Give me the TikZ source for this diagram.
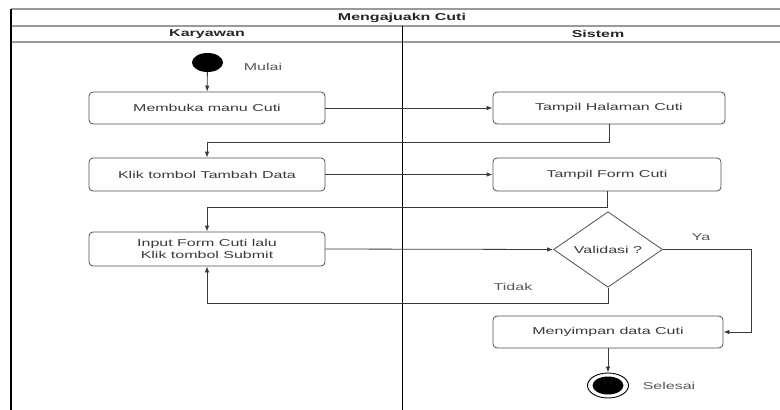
\documentclass[tikz,border=0pt]{standalone}
\usepackage{fontspec}
\setmainfont[FakeStretch=1.6]{Liberation Sans}
\usetikzlibrary{shapes.geometric,arrows.meta}
\definecolor{edge}{HTML}{505050}
\definecolor{ink}{HTML}{3A3A3A}
\definecolor{rule}{HTML}{9A9A9A}
\tikzset{
  act/.style={draw=edge, line width=0.8pt, rounded corners=4pt, fill=white,
    minimum width=236pt, minimum height=32pt, inner sep=0pt,
    font=\fontsize{10}{12}\selectfont, text=ink, align=center},
  decide/.style={diamond, draw=edge, line width=0.8pt, fill=white,
    minimum width=109pt, minimum height=65pt, inner sep=0pt,
    font=\fontsize{10}{12}\selectfont, text=ink},
  startdot/.style={ellipse, fill=black, minimum width=31pt, minimum height=19pt, inner sep=0pt},
  enddot/.style={ellipse, draw=black, line width=0.9pt, minimum width=41pt, minimum height=25pt, inner sep=0pt},
  enddotin/.style={ellipse, fill=black, minimum width=31pt, minimum height=18pt, inner sep=0pt},
  lbl/.style={font=\fontsize{10}{12}\selectfont, text=ink!85, inner sep=0pt},
  head/.style={font=\bfseries\fontsize{10}{12}\selectfont, text=black!85, inner sep=0pt},
  flow/.style={draw=ink, line width=0.8pt, -{Latex[length=6pt,width=4.5pt]}},
  hline/.style={draw=rule, line width=1.4pt},
}
\begin{document}
\begin{tikzpicture}[x=1pt,y=-1pt]
\useasboundingbox (0,0) rectangle (780,410);
\begin{scope}
\clip (0,0) rectangle (780,410);
% swimlane frame
\draw[hline] (11,9) -- (800,9);
\draw[hline] (11,26) -- (800,26);
\draw[hline] (11,42) -- (800,42);
\draw[black, line width=1.4pt] (11,9) -- (11,412);
\draw[black, line width=1pt] (402,26) -- (402,412);
\end{scope}
\node[head] (title) at (402,17.5) {Mengajuakn Cuti};
\node[head] (laneA) at (207,34) {Karyawan};
\node[head] (laneB) at (598,34) {Sistem};

% activities
\node[startdot] (start) at (207.5,62.5) {};
\node[lbl] (mulai) at (263,67) {Mulai};
\node[act] (k1) at (207,108) {Membuka manu Cuti};
\node[act, minimum height=33pt] (k2) at (207,174.5) {Klik tombol Tambah Data};
\node[act, minimum height=34pt] (k3) at (207,249) {Input Form Cuti lalu\\Klik tombol Submit};
\node[act, minimum width=232pt] (th) at (609,108) {Tampil Halaman Cuti};
\node[act, minimum width=228pt, minimum height=33pt] (tf) at (607,174.5) {Tampil Form Cuti};
\node[decide] (val) at (608,249.5) {Validasi ?};
\node[act, minimum width=230pt] (ms) at (608,332) {Menyimpan data Cuti};
\node[enddot] (fin) at (608,385.5) {};
\node[enddotin] (finin) at (608,385.5) {};
\node[lbl] (selesai) at (669,386) {Selesai};
\node[lbl] (ya) at (701,237) {Ya};
\node[lbl] (tidak) at (513,287) {Tidak};

% control flow
\draw[flow] (start) -- (k1);
\draw[flow] (k1) -- (th);
\draw[flow] (th.south) -- ++(0,18) -| (k2.north);
\draw[flow] (k2) -- (tf);
\draw[flow] (tf.south) -- ++(0,16) -| (k3.north);
\draw[flow] (k3.east) -- (val.west);
\draw[flow] (val.east) -- ++(88,0) |- (ms.east);
\draw[flow] (val.south) -- ++(0,16) -| (k3.south);
\draw[flow] (ms) -- (fin);
\end{tikzpicture}
\end{document}
